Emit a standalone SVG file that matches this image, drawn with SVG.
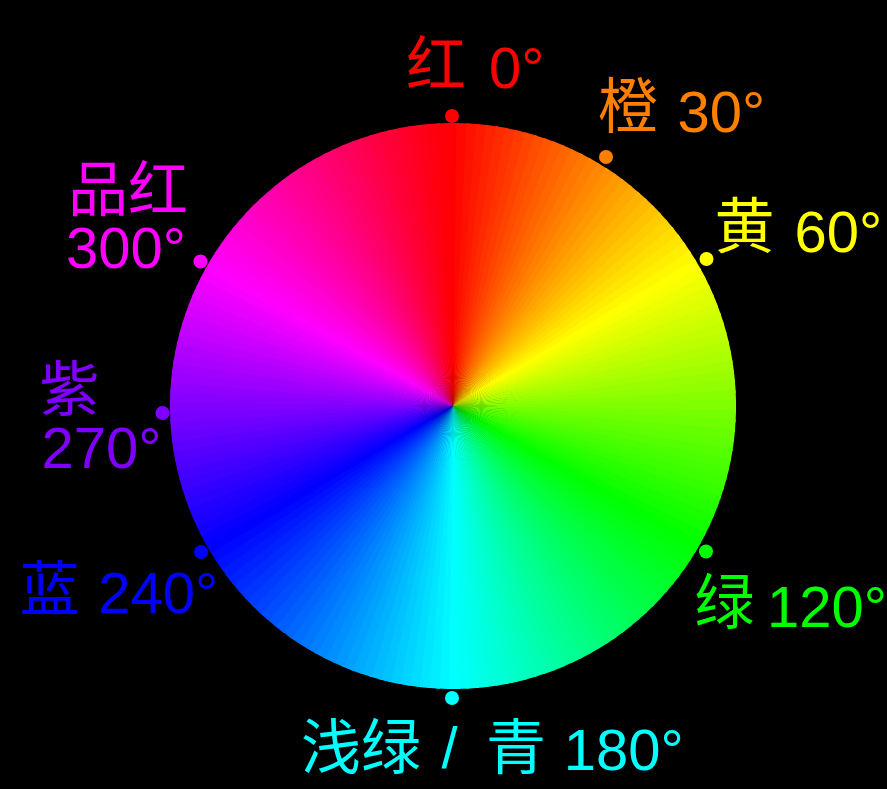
<svg xmlns="http://www.w3.org/2000/svg" xmlns:xlink="http://www.w3.org/1999/xlink" width="887" height="789" viewBox="0 0 887 789">
<defs>
<path id="w" d="M0,0 L-6.42,-282.93 A283,283 0 0 1 6.42,-282.93 Z"/>
</defs>
<style>
text{font-family:"Liberation Sans","Noto Sans CJK SC",sans-serif;font-size:58px}
.cjk{font-size:60px}
.red{fill:#ff0000}.orange{fill:#ff8000}.yellow{fill:#ffff00}.magenta{fill:#ff00ff}
.purple{fill:#8000ff}.blue{fill:#0000ff}.green{fill:#00ff00}.cyan{fill:#00ffff}
</style>
<rect width="887" height="789" fill="#000"/>
<g id="wheel" transform="translate(453,406)">
<use href="#w" transform="rotate(0)" fill="hsl(0,100%,50%)"/><use href="#w" transform="rotate(2)" fill="hsl(2,100%,50%)"/><use href="#w" transform="rotate(4)" fill="hsl(4,100%,50%)"/><use href="#w" transform="rotate(6)" fill="hsl(6,100%,50%)"/><use href="#w" transform="rotate(8)" fill="hsl(8,100%,50%)"/>
<use href="#w" transform="rotate(10)" fill="hsl(10,100%,50%)"/><use href="#w" transform="rotate(12)" fill="hsl(12,100%,50%)"/><use href="#w" transform="rotate(14)" fill="hsl(14,100%,50%)"/><use href="#w" transform="rotate(16)" fill="hsl(16,100%,50%)"/><use href="#w" transform="rotate(18)" fill="hsl(18,100%,50%)"/>
<use href="#w" transform="rotate(20)" fill="hsl(20,100%,50%)"/><use href="#w" transform="rotate(22)" fill="hsl(22,100%,50%)"/><use href="#w" transform="rotate(24)" fill="hsl(24,100%,50%)"/><use href="#w" transform="rotate(26)" fill="hsl(26,100%,50%)"/><use href="#w" transform="rotate(28)" fill="hsl(28,100%,50%)"/>
<use href="#w" transform="rotate(30)" fill="hsl(30,100%,50%)"/><use href="#w" transform="rotate(32)" fill="hsl(32,100%,50%)"/><use href="#w" transform="rotate(34)" fill="hsl(34,100%,50%)"/><use href="#w" transform="rotate(36)" fill="hsl(36,100%,50%)"/><use href="#w" transform="rotate(38)" fill="hsl(38,100%,50%)"/>
<use href="#w" transform="rotate(40)" fill="hsl(40,100%,50%)"/><use href="#w" transform="rotate(42)" fill="hsl(42,100%,50%)"/><use href="#w" transform="rotate(44)" fill="hsl(44,100%,50%)"/><use href="#w" transform="rotate(46)" fill="hsl(46,100%,50%)"/><use href="#w" transform="rotate(48)" fill="hsl(48,100%,50%)"/>
<use href="#w" transform="rotate(50)" fill="hsl(50,100%,50%)"/><use href="#w" transform="rotate(52)" fill="hsl(52,100%,50%)"/><use href="#w" transform="rotate(54)" fill="hsl(54,100%,50%)"/><use href="#w" transform="rotate(56)" fill="hsl(56,100%,50%)"/><use href="#w" transform="rotate(58)" fill="hsl(58,100%,50%)"/>
<use href="#w" transform="rotate(60)" fill="hsl(60,100%,50%)"/><use href="#w" transform="rotate(62)" fill="hsl(62,100%,50%)"/><use href="#w" transform="rotate(64)" fill="hsl(64,100%,50%)"/><use href="#w" transform="rotate(66)" fill="hsl(66,100%,50%)"/><use href="#w" transform="rotate(68)" fill="hsl(68,100%,50%)"/>
<use href="#w" transform="rotate(70)" fill="hsl(70,100%,50%)"/><use href="#w" transform="rotate(72)" fill="hsl(72,100%,50%)"/><use href="#w" transform="rotate(74)" fill="hsl(74,100%,50%)"/><use href="#w" transform="rotate(76)" fill="hsl(76,100%,50%)"/><use href="#w" transform="rotate(78)" fill="hsl(78,100%,50%)"/>
<use href="#w" transform="rotate(80)" fill="hsl(80,100%,50%)"/><use href="#w" transform="rotate(82)" fill="hsl(82,100%,50%)"/><use href="#w" transform="rotate(84)" fill="hsl(84,100%,50%)"/><use href="#w" transform="rotate(86)" fill="hsl(86,100%,50%)"/><use href="#w" transform="rotate(88)" fill="hsl(88,100%,50%)"/>
<use href="#w" transform="rotate(90)" fill="hsl(90,100%,50%)"/><use href="#w" transform="rotate(92)" fill="hsl(92,100%,50%)"/><use href="#w" transform="rotate(94)" fill="hsl(94,100%,50%)"/><use href="#w" transform="rotate(96)" fill="hsl(96,100%,50%)"/><use href="#w" transform="rotate(98)" fill="hsl(98,100%,50%)"/>
<use href="#w" transform="rotate(100)" fill="hsl(100,100%,50%)"/><use href="#w" transform="rotate(102)" fill="hsl(102,100%,50%)"/><use href="#w" transform="rotate(104)" fill="hsl(104,100%,50%)"/><use href="#w" transform="rotate(106)" fill="hsl(106,100%,50%)"/><use href="#w" transform="rotate(108)" fill="hsl(108,100%,50%)"/>
<use href="#w" transform="rotate(110)" fill="hsl(110,100%,50%)"/><use href="#w" transform="rotate(112)" fill="hsl(112,100%,50%)"/><use href="#w" transform="rotate(114)" fill="hsl(114,100%,50%)"/><use href="#w" transform="rotate(116)" fill="hsl(116,100%,50%)"/><use href="#w" transform="rotate(118)" fill="hsl(118,100%,50%)"/>
<use href="#w" transform="rotate(120)" fill="hsl(120,100%,50%)"/><use href="#w" transform="rotate(122)" fill="hsl(122,100%,50%)"/><use href="#w" transform="rotate(124)" fill="hsl(124,100%,50%)"/><use href="#w" transform="rotate(126)" fill="hsl(126,100%,50%)"/><use href="#w" transform="rotate(128)" fill="hsl(128,100%,50%)"/>
<use href="#w" transform="rotate(130)" fill="hsl(130,100%,50%)"/><use href="#w" transform="rotate(132)" fill="hsl(132,100%,50%)"/><use href="#w" transform="rotate(134)" fill="hsl(134,100%,50%)"/><use href="#w" transform="rotate(136)" fill="hsl(136,100%,50%)"/><use href="#w" transform="rotate(138)" fill="hsl(138,100%,50%)"/>
<use href="#w" transform="rotate(140)" fill="hsl(140,100%,50%)"/><use href="#w" transform="rotate(142)" fill="hsl(142,100%,50%)"/><use href="#w" transform="rotate(144)" fill="hsl(144,100%,50%)"/><use href="#w" transform="rotate(146)" fill="hsl(146,100%,50%)"/><use href="#w" transform="rotate(148)" fill="hsl(148,100%,50%)"/>
<use href="#w" transform="rotate(150)" fill="hsl(150,100%,50%)"/><use href="#w" transform="rotate(152)" fill="hsl(152,100%,50%)"/><use href="#w" transform="rotate(154)" fill="hsl(154,100%,50%)"/><use href="#w" transform="rotate(156)" fill="hsl(156,100%,50%)"/><use href="#w" transform="rotate(158)" fill="hsl(158,100%,50%)"/>
<use href="#w" transform="rotate(160)" fill="hsl(160,100%,50%)"/><use href="#w" transform="rotate(162)" fill="hsl(162,100%,50%)"/><use href="#w" transform="rotate(164)" fill="hsl(164,100%,50%)"/><use href="#w" transform="rotate(166)" fill="hsl(166,100%,50%)"/><use href="#w" transform="rotate(168)" fill="hsl(168,100%,50%)"/>
<use href="#w" transform="rotate(170)" fill="hsl(170,100%,50%)"/><use href="#w" transform="rotate(172)" fill="hsl(172,100%,50%)"/><use href="#w" transform="rotate(174)" fill="hsl(174,100%,50%)"/><use href="#w" transform="rotate(176)" fill="hsl(176,100%,50%)"/><use href="#w" transform="rotate(178)" fill="hsl(178,100%,50%)"/>
<use href="#w" transform="rotate(180)" fill="hsl(180,100%,50%)"/><use href="#w" transform="rotate(182)" fill="hsl(182,100%,50%)"/><use href="#w" transform="rotate(184)" fill="hsl(184,100%,50%)"/><use href="#w" transform="rotate(186)" fill="hsl(186,100%,50%)"/><use href="#w" transform="rotate(188)" fill="hsl(188,100%,50%)"/>
<use href="#w" transform="rotate(190)" fill="hsl(190,100%,50%)"/><use href="#w" transform="rotate(192)" fill="hsl(192,100%,50%)"/><use href="#w" transform="rotate(194)" fill="hsl(194,100%,50%)"/><use href="#w" transform="rotate(196)" fill="hsl(196,100%,50%)"/><use href="#w" transform="rotate(198)" fill="hsl(198,100%,50%)"/>
<use href="#w" transform="rotate(200)" fill="hsl(200,100%,50%)"/><use href="#w" transform="rotate(202)" fill="hsl(202,100%,50%)"/><use href="#w" transform="rotate(204)" fill="hsl(204,100%,50%)"/><use href="#w" transform="rotate(206)" fill="hsl(206,100%,50%)"/><use href="#w" transform="rotate(208)" fill="hsl(208,100%,50%)"/>
<use href="#w" transform="rotate(210)" fill="hsl(210,100%,50%)"/><use href="#w" transform="rotate(212)" fill="hsl(212,100%,50%)"/><use href="#w" transform="rotate(214)" fill="hsl(214,100%,50%)"/><use href="#w" transform="rotate(216)" fill="hsl(216,100%,50%)"/><use href="#w" transform="rotate(218)" fill="hsl(218,100%,50%)"/>
<use href="#w" transform="rotate(220)" fill="hsl(220,100%,50%)"/><use href="#w" transform="rotate(222)" fill="hsl(222,100%,50%)"/><use href="#w" transform="rotate(224)" fill="hsl(224,100%,50%)"/><use href="#w" transform="rotate(226)" fill="hsl(226,100%,50%)"/><use href="#w" transform="rotate(228)" fill="hsl(228,100%,50%)"/>
<use href="#w" transform="rotate(230)" fill="hsl(230,100%,50%)"/><use href="#w" transform="rotate(232)" fill="hsl(232,100%,50%)"/><use href="#w" transform="rotate(234)" fill="hsl(234,100%,50%)"/><use href="#w" transform="rotate(236)" fill="hsl(236,100%,50%)"/><use href="#w" transform="rotate(238)" fill="hsl(238,100%,50%)"/>
<use href="#w" transform="rotate(240)" fill="hsl(240,100%,50%)"/><use href="#w" transform="rotate(242)" fill="hsl(242,100%,50%)"/><use href="#w" transform="rotate(244)" fill="hsl(244,100%,50%)"/><use href="#w" transform="rotate(246)" fill="hsl(246,100%,50%)"/><use href="#w" transform="rotate(248)" fill="hsl(248,100%,50%)"/>
<use href="#w" transform="rotate(250)" fill="hsl(250,100%,50%)"/><use href="#w" transform="rotate(252)" fill="hsl(252,100%,50%)"/><use href="#w" transform="rotate(254)" fill="hsl(254,100%,50%)"/><use href="#w" transform="rotate(256)" fill="hsl(256,100%,50%)"/><use href="#w" transform="rotate(258)" fill="hsl(258,100%,50%)"/>
<use href="#w" transform="rotate(260)" fill="hsl(260,100%,50%)"/><use href="#w" transform="rotate(262)" fill="hsl(262,100%,50%)"/><use href="#w" transform="rotate(264)" fill="hsl(264,100%,50%)"/><use href="#w" transform="rotate(266)" fill="hsl(266,100%,50%)"/><use href="#w" transform="rotate(268)" fill="hsl(268,100%,50%)"/>
<use href="#w" transform="rotate(270)" fill="hsl(270,100%,50%)"/><use href="#w" transform="rotate(272)" fill="hsl(272,100%,50%)"/><use href="#w" transform="rotate(274)" fill="hsl(274,100%,50%)"/><use href="#w" transform="rotate(276)" fill="hsl(276,100%,50%)"/><use href="#w" transform="rotate(278)" fill="hsl(278,100%,50%)"/>
<use href="#w" transform="rotate(280)" fill="hsl(280,100%,50%)"/><use href="#w" transform="rotate(282)" fill="hsl(282,100%,50%)"/><use href="#w" transform="rotate(284)" fill="hsl(284,100%,50%)"/><use href="#w" transform="rotate(286)" fill="hsl(286,100%,50%)"/><use href="#w" transform="rotate(288)" fill="hsl(288,100%,50%)"/>
<use href="#w" transform="rotate(290)" fill="hsl(290,100%,50%)"/><use href="#w" transform="rotate(292)" fill="hsl(292,100%,50%)"/><use href="#w" transform="rotate(294)" fill="hsl(294,100%,50%)"/><use href="#w" transform="rotate(296)" fill="hsl(296,100%,50%)"/><use href="#w" transform="rotate(298)" fill="hsl(298,100%,50%)"/>
<use href="#w" transform="rotate(300)" fill="hsl(300,100%,50%)"/><use href="#w" transform="rotate(302)" fill="hsl(302,100%,50%)"/><use href="#w" transform="rotate(304)" fill="hsl(304,100%,50%)"/><use href="#w" transform="rotate(306)" fill="hsl(306,100%,50%)"/><use href="#w" transform="rotate(308)" fill="hsl(308,100%,50%)"/>
<use href="#w" transform="rotate(310)" fill="hsl(310,100%,50%)"/><use href="#w" transform="rotate(312)" fill="hsl(312,100%,50%)"/><use href="#w" transform="rotate(314)" fill="hsl(314,100%,50%)"/><use href="#w" transform="rotate(316)" fill="hsl(316,100%,50%)"/><use href="#w" transform="rotate(318)" fill="hsl(318,100%,50%)"/>
<use href="#w" transform="rotate(320)" fill="hsl(320,100%,50%)"/><use href="#w" transform="rotate(322)" fill="hsl(322,100%,50%)"/><use href="#w" transform="rotate(324)" fill="hsl(324,100%,50%)"/><use href="#w" transform="rotate(326)" fill="hsl(326,100%,50%)"/><use href="#w" transform="rotate(328)" fill="hsl(328,100%,50%)"/>
<use href="#w" transform="rotate(330)" fill="hsl(330,100%,50%)"/><use href="#w" transform="rotate(332)" fill="hsl(332,100%,50%)"/><use href="#w" transform="rotate(334)" fill="hsl(334,100%,50%)"/><use href="#w" transform="rotate(336)" fill="hsl(336,100%,50%)"/><use href="#w" transform="rotate(338)" fill="hsl(338,100%,50%)"/>
<use href="#w" transform="rotate(340)" fill="hsl(340,100%,50%)"/><use href="#w" transform="rotate(342)" fill="hsl(342,100%,50%)"/><use href="#w" transform="rotate(344)" fill="hsl(344,100%,50%)"/><use href="#w" transform="rotate(346)" fill="hsl(346,100%,50%)"/><use href="#w" transform="rotate(348)" fill="hsl(348,100%,50%)"/>
<use href="#w" transform="rotate(350)" fill="hsl(350,100%,50%)"/><use href="#w" transform="rotate(352)" fill="hsl(352,100%,50%)"/><use href="#w" transform="rotate(354)" fill="hsl(354,100%,50%)"/><use href="#w" transform="rotate(356)" fill="hsl(356,100%,50%)"/><use href="#w" transform="rotate(358)" fill="hsl(358,100%,50%)"/>
</g>
<g id="label-red">
<circle class="red" cx="452" cy="116" r="7"/>
<text class="red"><tspan class="cjk" x="406" y="85.5">红</tspan><tspan x="489" y="88">0°</tspan></text>
</g>
<g id="label-orange">
<circle class="orange" cx="606" cy="157" r="7"/>
<text class="orange"><tspan class="cjk" x="598" y="128">橙</tspan><tspan x="677.5" y="131.5">30°</tspan></text>
</g>
<g id="label-yellow">
<circle class="yellow" cx="706.5" cy="259" r="7"/>
<text class="yellow"><tspan class="cjk" x="714.5" y="248">黄</tspan><tspan x="794.5" y="251.5">60°</tspan></text>
</g>
<g id="label-magenta">
<circle class="magenta" cx="200.5" cy="261.5" r="7"/>
<text class="magenta"><tspan class="cjk" x="68" y="211">品红</tspan></text>
<text class="magenta" x="66" y="268">300°</text>
</g>
<g id="label-purple">
<circle class="purple" cx="162.5" cy="413" r="7"/>
<text class="purple"><tspan class="cjk" x="39.5" y="411">紫</tspan></text>
<text class="purple" x="41.5" y="468">270°</text>
</g>
<g id="label-blue">
<circle class="blue" cx="201" cy="552" r="7"/>
<text class="blue"><tspan class="cjk" x="19.5" y="611">蓝</tspan><tspan x="98.3" y="613">240°</tspan></text>
</g>
<g id="label-green">
<circle class="green" cx="706" cy="551.5" r="7"/>
<text class="green"><tspan class="cjk" x="694.5" y="624">绿</tspan><tspan x="767" y="626.5">120°</tspan></text>
</g>
<g id="label-cyan">
<circle class="cyan" cx="452" cy="698" r="7"/>
<text class="cyan"><tspan class="cjk" x="301" y="768.5">浅绿</tspan><tspan x="441.5" y="768">/</tspan><tspan class="cjk" x="486" y="768.5">青</tspan><tspan x="563.7" y="770">180°</tspan></text>
</g>
</svg>
